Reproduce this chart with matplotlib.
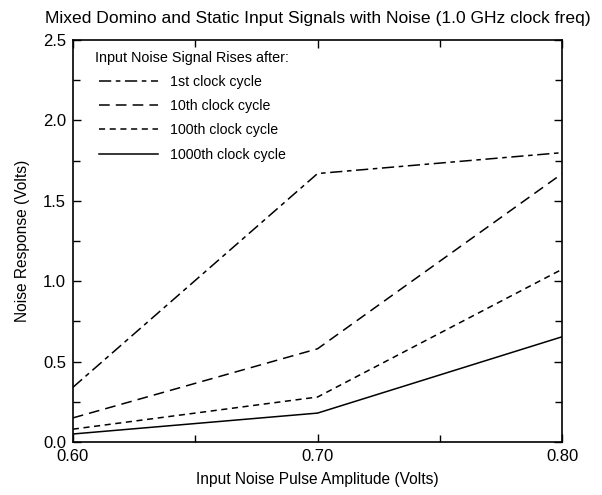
import matplotlib
matplotlib.use('Agg')
import matplotlib.pyplot as plt
from matplotlib.ticker import MultipleLocator

plt.rcParams['font.family'] = ['Liberation Sans', 'DejaVu Sans']

# pulse amplitudes (V) and noise responses (V) for each rise cycle
amplitude = [0.60, 0.70, 0.80]
cycle_1st = [0.34, 1.67, 1.80]
cycle_10th = [0.15, 0.58, 1.67]
cycle_100th = [0.08, 0.28, 1.075]
cycle_1000th = [0.05, 0.18, 0.655]

labels = ['1st clock cycle', '10th clock cycle', '100th clock cycle', '1000th clock cycle']
x_ticks = [0.60, 0.70, 0.80]
x_tick_labels = ['0.60', '0.70', '0.80']
y_ticks = [0.0, 0.5, 1.0, 1.5, 2.0, 2.5]
y_tick_labels = ['0.0', '0.5', '1.0', '1.5', '2.0', '2.5']

fig = plt.figure(figsize=(6.02, 4.95), dpi=100)
ax = fig.add_axes([0.121, 0.107, 0.813, 0.812])

styles = [(0, (8, 3, 3, 3)), (0, (7, 4)), (0, (4, 3)), '-']
for series, label, ls in zip([cycle_1st, cycle_10th, cycle_100th, cycle_1000th], labels, styles):
    ax.plot(amplitude, series, color='black', linewidth=1.1, linestyle=ls, label=label)

ax.set_xlim(0.60, 0.80)
ax.set_ylim(0.0, 2.5)
ax.set_xticks(x_ticks)
ax.set_xticklabels(x_tick_labels)
ax.set_yticks(y_ticks)
ax.set_yticklabels(y_tick_labels)
ax.xaxis.set_minor_locator(MultipleLocator(0.05))
ax.yaxis.set_minor_locator(MultipleLocator(0.25))
ax.tick_params(which='both', direction='in', top=True, right=True, labelsize=12, width=1)
ax.tick_params(which='major', length=6, pad=5)
ax.tick_params(which='minor', length=5)
for sp in ax.spines.values():
    sp.set_linewidth(1.2)

ax.set_xlabel('Input Noise Pulse Amplitude (Volts)', fontsize=11.2, labelpad=6)
ax.set_ylabel('Noise Response (Volts)', fontsize=11.2, labelpad=9)
ax.set_title('Mixed Domino and Static Input Signals with Noise (1.0 GHz clock freq)',
             fontsize=12.6, pad=12)

leg = ax.legend(loc='upper left', frameon=False, title='Input Noise Signal Rises after:',
                fontsize=10.2, title_fontsize=10.4, handlelength=4.2, handletextpad=0.8,
                labelspacing=0.72, bbox_to_anchor=(0.02, 1.005))

fig.savefig('out.png', dpi=100)
